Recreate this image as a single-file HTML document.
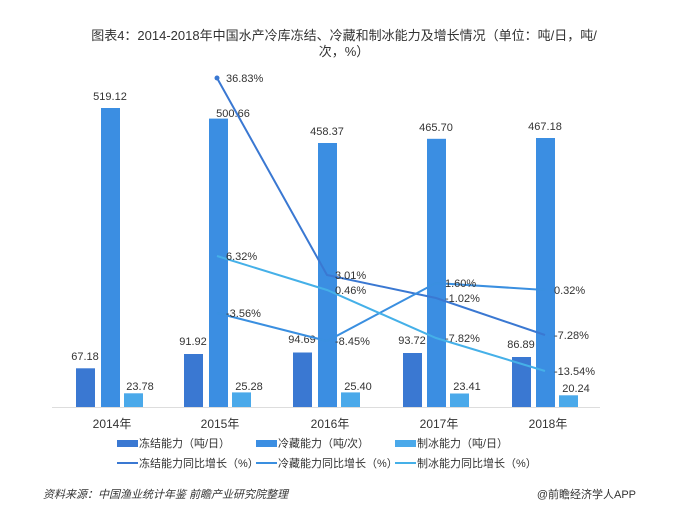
<!DOCTYPE html><html><head><meta charset="utf-8"><style>body{margin:0;background:#fff}svg{display:block}text{font-family:"Liberation Sans","Noto Sans CJK SC",sans-serif}</style></head><body>
<svg width="689" height="521" viewBox="0 0 689 521">
<text x="344" y="40" text-anchor="middle" font-size="13" fill="#333">图表4：2014-2018年中国水产冷库冻结、冷藏和制冰能力及增长情况（单位：吨/日，吨/</text>
<text x="344" y="56" text-anchor="middle" font-size="13" fill="#333">次，%）</text>
<line x1="52" y1="407.5" x2="600" y2="407.5" stroke="#ddd"/>
<g font-size="11" fill="#333" text-anchor="middle">
<rect x="76" y="368.3" width="19" height="38.7" fill="#3a78d2"/><text x="85" y="360">67.18</text>
<rect x="101" y="108" width="19" height="299" fill="#3b8ee2"/><text x="110" y="100">519.12</text>
<rect x="124" y="393.3" width="19" height="13.7" fill="#4aa9ea"/><text x="140" y="390">23.78</text>
<rect x="184" y="354" width="19" height="53" fill="#3a78d2"/><text x="193" y="345">91.92</text>
<rect x="209" y="118.6" width="19" height="288.4" fill="#3b8ee2"/><text x="233" y="117">500.66</text>
<rect x="232" y="392.4" width="19" height="14.6" fill="#4aa9ea"/><text x="249" y="390">25.28</text>
<rect x="293" y="352.5" width="19" height="54.5" fill="#3a78d2"/><text x="302" y="343">94.69</text>
<rect x="318" y="143" width="19" height="264" fill="#3b8ee2"/><text x="327" y="135">458.37</text>
<rect x="341" y="392.4" width="19" height="14.6" fill="#4aa9ea"/><text x="358" y="390">25.40</text>
<rect x="403" y="353" width="19" height="54" fill="#3a78d2"/><text x="412" y="344">93.72</text>
<rect x="427" y="138.8" width="19" height="268.2" fill="#3b8ee2"/><text x="436" y="131">465.70</text>
<rect x="450" y="393.5" width="19" height="13.5" fill="#4aa9ea"/><text x="467" y="390">23.41</text>
<rect x="512" y="357" width="19" height="50" fill="#3a78d2"/><text x="521" y="348">86.89</text>
<rect x="536" y="138" width="19" height="269" fill="#3b8ee2"/><text x="545" y="130">467.18</text>
<rect x="559" y="395.3" width="19" height="11.7" fill="#4aa9ea"/><text x="576" y="392">20.24</text>
</g>
<g fill="none" stroke-width="2">
<polyline points="217,78 327,275 436,298 545,335" stroke="#3a78d2"/>
<polyline points="217,313 327,341 436,283 545,290" stroke="#3a8fe0"/>
<polyline points="217,256 327,290 436,338 545,371" stroke="#45b0e8"/>
</g>
<g fill="#3a78d2"><circle cx="217" cy="78" r="2.5"/></g>
<g font-size="11" fill="#333">
<text x="226" y="82">36.83%</text>
<text x="335" y="279">3.01%</text><text x="445" y="302">-1.02%</text><text x="554" y="339">-7.28%</text>
<text x="226" y="317">-3.56%</text><text x="335" y="345">-8.45%</text><text x="445" y="287">1.60%</text><text x="554" y="294">0.32%</text>
<text x="226" y="260">6.32%</text><text x="335" y="294">0.46%</text><text x="445" y="342">-7.82%</text><text x="554" y="375">-13.54%</text>
</g>
<g font-size="12" fill="#333" text-anchor="middle">
<text x="112" y="428">2014年</text><text x="220" y="428">2015年</text><text x="330" y="428">2016年</text><text x="439" y="428">2017年</text><text x="548" y="428">2018年</text>
</g>
<g font-size="11" fill="#333">
<rect x="117" y="440" width="21" height="7" fill="#3a78d2"/><text x="139" y="447">冻结能力（吨/日）</text>
<rect x="256" y="440" width="21" height="7" fill="#3b8ee2"/><text x="278" y="447">冷藏能力（吨/次）</text>
<rect x="395" y="440" width="21" height="7" fill="#4aa9ea"/><text x="417" y="447">制冰能力（吨/日）</text>
<line x1="117" y1="463" x2="138" y2="463" stroke="#3a78d2" stroke-width="2"/><text x="139" y="467">冻结能力同比增长（%）</text>
<line x1="256" y1="463" x2="277" y2="463" stroke="#3a8fe0" stroke-width="2"/><text x="278" y="467">冷藏能力同比增长（%）</text>
<line x1="395" y1="463" x2="416" y2="463" stroke="#45b0e8" stroke-width="2"/><text x="417" y="467">制冰能力同比增长（%）</text>
</g>
<text x="43" y="498" font-size="11" font-style="italic" fill="#333">资料来源：中国渔业统计年鉴 前瞻产业研究院整理</text>
<text x="636" y="498" font-size="11" fill="#333" text-anchor="end">@前瞻经济学人APP</text>
</svg></body></html>
